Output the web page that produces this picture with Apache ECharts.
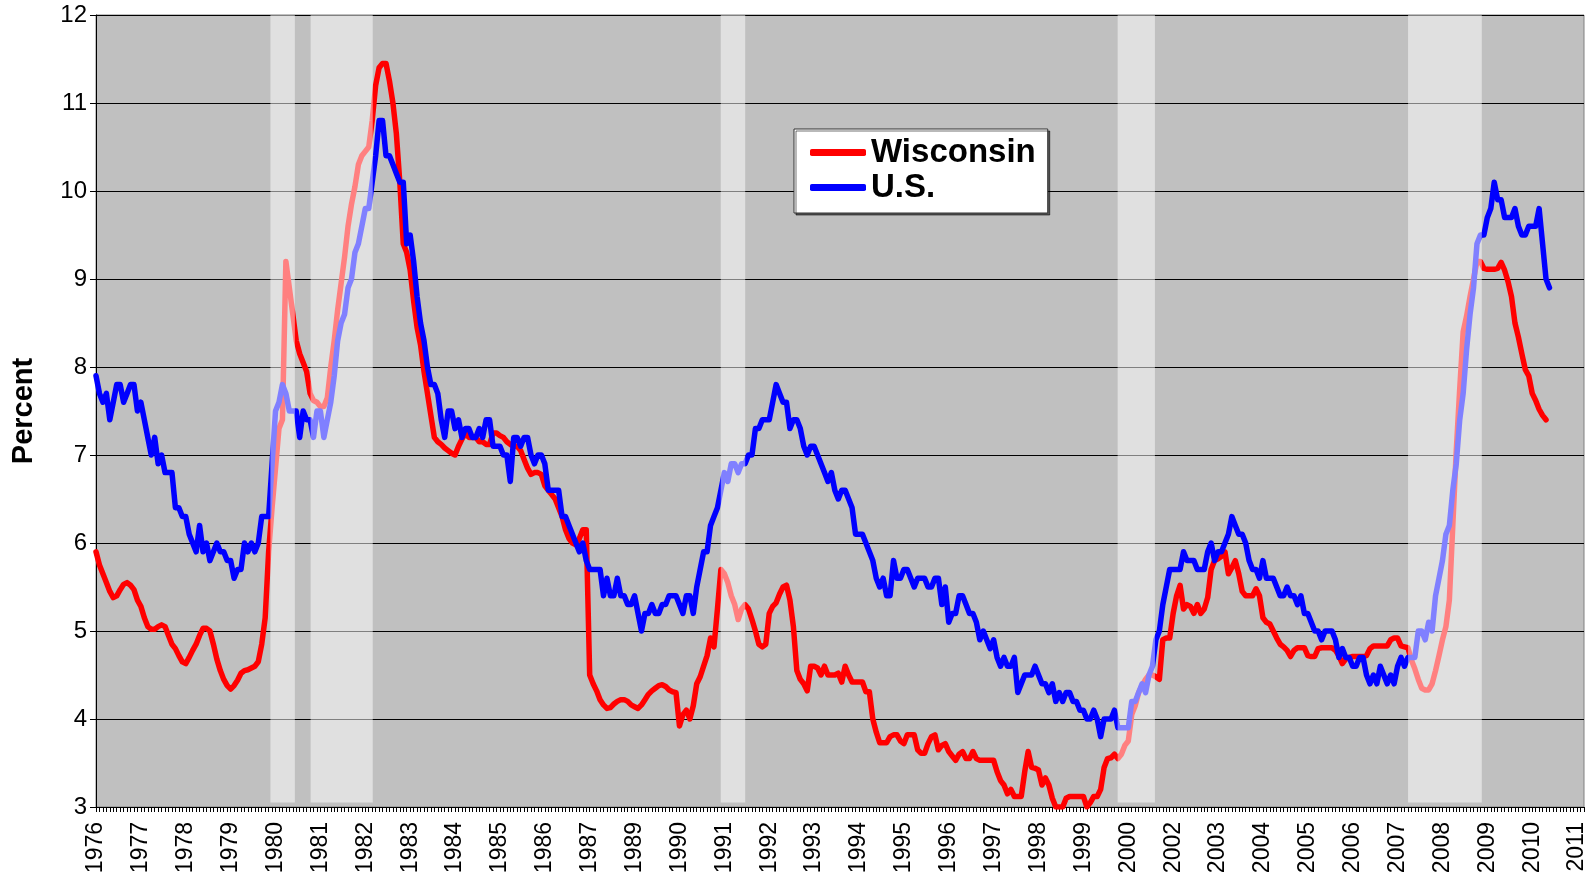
<!DOCTYPE html>
<html lang="en">
<head>
  <meta charset="UTF-8">
  <title>Wisconsin vs U.S. unemployment rate</title>
  <script src="https://cdn.jsdelivr.net/npm/echarts@6/dist/echarts.min.js"></script>
  <style>
    html, body { margin: 0; padding: 0; background: #fff; }
    #main { width: 1594px; height: 879px; }
  </style>
</head>
<body>
<div id="main"></div>
<script>
  // monthly rates, one row per year, starting Jan 1976
  var startYear = 1976;
  var endYear = 2011;

  var wisconsin = [
    5.9, 5.75, 5.65, 5.55, 5.45, 5.38, 5.4, 5.47, 5.53, 5.55, 5.52, 5.47,
    5.35, 5.28, 5.15, 5.05, 5.02, 5.02, 5.05, 5.07, 5.05, 4.95, 4.85, 4.8,
    4.72, 4.65, 4.63, 4.7, 4.78, 4.85, 4.95, 5.03, 5.03, 5.0, 4.85, 4.68,
    4.55, 4.45, 4.38, 4.34, 4.38, 4.44, 4.52, 4.55, 4.56, 4.58, 4.6, 4.65,
    4.85, 5.15, 5.9, 6.4, 6.85, 7.3, 7.4, 9.2, 8.9, 8.6, 8.3, 8.15,
    8.05, 7.95, 7.7, 7.62, 7.6, 7.55, 7.55, 7.65, 8.0, 8.3, 8.65, 8.95,
    9.25, 9.6, 9.85, 10.05, 10.3, 10.4, 10.45, 10.5, 10.8, 11.2, 11.4, 11.45,
    11.45, 11.25, 11.0, 10.65, 10.1, 9.4, 9.3, 9.1, 8.75, 8.45, 8.25, 7.95,
    7.7, 7.45, 7.2, 7.15, 7.12, 7.08, 7.05, 7.02, 7.0, 7.1, 7.18, 7.25,
    7.2, 7.2, 7.2, 7.15, 7.15, 7.12, 7.12, 7.25, 7.25, 7.22, 7.2, 7.15,
    7.12, 7.1, 7.1, 7.05, 6.95, 6.85, 6.78, 6.8, 6.8, 6.78, 6.65, 6.6,
    6.55, 6.5, 6.4, 6.3, 6.15, 6.05, 6.0, 5.98, 6.05, 6.15, 6.15, 4.5,
    4.4, 4.32, 4.22, 4.16, 4.12, 4.13, 4.17, 4.2, 4.22, 4.22, 4.2, 4.16,
    4.14, 4.12, 4.16, 4.22, 4.28, 4.32, 4.35, 4.38, 4.39, 4.37, 4.33, 4.31,
    4.3, 3.92, 4.05, 4.1, 4.0, 4.15, 4.4, 4.48, 4.6, 4.72, 4.92, 4.82,
    5.25, 5.7, 5.65, 5.55, 5.4, 5.3, 5.13, 5.25, 5.3, 5.25, 5.13, 5.0,
    4.85, 4.82, 4.85, 5.2, 5.28, 5.32, 5.42, 5.5, 5.52, 5.35, 5.05, 4.55,
    4.45, 4.4, 4.32, 4.6, 4.6, 4.58, 4.5, 4.6, 4.5, 4.5, 4.5, 4.52,
    4.42, 4.6, 4.5, 4.42, 4.42, 4.42, 4.42, 4.31, 4.31, 4.0, 3.85, 3.73,
    3.73, 3.73, 3.8, 3.82, 3.82, 3.75, 3.72, 3.82, 3.82, 3.82, 3.65, 3.61,
    3.61, 3.72, 3.8, 3.82, 3.65, 3.7, 3.72, 3.63, 3.58, 3.53, 3.6, 3.63,
    3.55, 3.55, 3.63, 3.55, 3.53, 3.53, 3.53, 3.53, 3.53, 3.4, 3.3, 3.25,
    3.15, 3.2, 3.12, 3.12, 3.12, 3.4, 3.63, 3.45, 3.44, 3.42, 3.25, 3.33,
    3.25, 3.1, 3.0, 3.0, 3.0, 3.1, 3.12, 3.12, 3.12, 3.12, 3.12, 3.0,
    3.05, 3.12, 3.12, 3.2, 3.45, 3.55, 3.56, 3.6, 3.55, 3.6, 3.7, 3.75,
    4.05, 4.15, 4.3, 4.38, 4.45, 4.5, 4.5, 4.48, 4.45, 4.9, 4.92, 4.92,
    5.2, 5.4, 5.52, 5.25, 5.3, 5.28, 5.2, 5.3, 5.2, 5.25, 5.38, 5.7,
    5.8, 5.82, 5.85, 5.9, 5.65, 5.72, 5.8, 5.65, 5.45, 5.4, 5.4, 5.4,
    5.48, 5.4, 5.15, 5.1, 5.08, 5.0, 4.92, 4.85, 4.82, 4.78, 4.71, 4.78,
    4.81, 4.81, 4.81, 4.72, 4.71, 4.71, 4.8, 4.81, 4.81, 4.81, 4.81, 4.78,
    4.72, 4.63, 4.68, 4.7, 4.71, 4.71, 4.71, 4.71, 4.72, 4.8, 4.83, 4.83,
    4.83, 4.83, 4.83, 4.9, 4.92, 4.92, 4.83, 4.82, 4.81, 4.67, 4.57, 4.45,
    4.35, 4.33, 4.33, 4.4, 4.55, 4.72, 4.9, 5.05, 5.35, 6.2, 7.05, 7.75,
    8.4, 8.58, 8.8, 9.0, 9.2, 9.2, 9.12, 9.11, 9.11, 9.11, 9.12, 9.19,
    9.1, 8.97, 8.8, 8.5, 8.34, 8.15, 7.97, 7.9, 7.7, 7.62, 7.52, 7.45,
    7.4
  ];

  var us = [
    7.9, 7.7, 7.6, 7.7, 7.4, 7.6, 7.8, 7.8, 7.6, 7.7, 7.8, 7.8,
    7.5, 7.6, 7.4, 7.2, 7.0, 7.2, 6.9, 7.0, 6.8, 6.8, 6.8, 6.4,
    6.4, 6.3, 6.3, 6.1, 6.0, 5.9, 6.2, 5.9, 6.0, 5.8, 5.9, 6.0,
    5.9, 5.9, 5.8, 5.8, 5.6, 5.7, 5.7, 6.0, 5.9, 6.0, 5.9, 6.0,
    6.3, 6.3, 6.3, 6.9, 7.5, 7.6, 7.8, 7.7, 7.5, 7.5, 7.5, 7.2,
    7.5, 7.4, 7.4, 7.2, 7.5, 7.5, 7.2, 7.4, 7.6, 7.9, 8.3, 8.5,
    8.6, 8.9, 9.0, 9.3, 9.4, 9.6, 9.8, 9.8, 10.1, 10.4, 10.8, 10.8,
    10.4, 10.4, 10.3, 10.2, 10.1, 10.1, 9.4, 9.5, 9.2, 8.8, 8.5, 8.3,
    8.0, 7.8, 7.8, 7.7, 7.4, 7.2, 7.5, 7.5, 7.3, 7.4, 7.2, 7.3,
    7.3, 7.2, 7.2, 7.3, 7.2, 7.4, 7.4, 7.1, 7.1, 7.1, 7.0, 7.0,
    6.7, 7.2, 7.2, 7.1, 7.2, 7.2, 7.0, 6.9, 7.0, 7.0, 6.9, 6.6,
    6.6, 6.6, 6.6, 6.3, 6.3, 6.2, 6.1, 6.0, 5.9, 6.0, 5.8, 5.7,
    5.7, 5.7, 5.7, 5.4, 5.6, 5.4, 5.4, 5.6, 5.4, 5.4, 5.3, 5.3,
    5.4, 5.2, 5.0, 5.2, 5.2, 5.3, 5.2, 5.2, 5.3, 5.3, 5.4, 5.4,
    5.4, 5.3, 5.2, 5.4, 5.4, 5.2, 5.5, 5.7, 5.9, 5.9, 6.2, 6.3,
    6.4, 6.6, 6.8, 6.7, 6.9, 6.9, 6.8, 6.9, 6.9, 7.0, 7.0, 7.3,
    7.3, 7.4, 7.4, 7.4, 7.6, 7.8, 7.7, 7.6, 7.6, 7.3, 7.4, 7.4,
    7.3, 7.1, 7.0, 7.1, 7.1, 7.0, 6.9, 6.8, 6.7, 6.8, 6.6, 6.5,
    6.6, 6.6, 6.5, 6.4, 6.1, 6.1, 6.1, 6.0, 5.9, 5.8, 5.6, 5.5,
    5.6, 5.4, 5.4, 5.8, 5.6, 5.6, 5.7, 5.7, 5.6, 5.5, 5.6, 5.6,
    5.6, 5.5, 5.5, 5.6, 5.6, 5.3, 5.5, 5.1, 5.2, 5.2, 5.4, 5.4,
    5.3, 5.2, 5.2, 5.1, 4.9, 5.0, 4.9, 4.8, 4.9, 4.7, 4.6, 4.7,
    4.6, 4.6, 4.7, 4.3, 4.4, 4.5, 4.5, 4.5, 4.6, 4.5, 4.4, 4.4,
    4.3, 4.4, 4.2, 4.3, 4.2, 4.3, 4.3, 4.2, 4.2, 4.1, 4.1, 4.0,
    4.0, 4.1, 4.0, 3.8, 4.0, 4.0, 4.0, 4.1, 3.9, 3.9, 3.9, 3.9,
    4.2, 4.2, 4.3, 4.4, 4.3, 4.5, 4.6, 4.9, 5.0, 5.3, 5.5, 5.7,
    5.7, 5.7, 5.7, 5.9, 5.8, 5.8, 5.8, 5.7, 5.7, 5.7, 5.9, 6.0,
    5.8, 5.9, 5.9, 6.0, 6.1, 6.3, 6.2, 6.1, 6.1, 6.0, 5.8, 5.7,
    5.7, 5.6, 5.8, 5.6, 5.6, 5.6, 5.5, 5.4, 5.4, 5.5, 5.4, 5.4,
    5.3, 5.4, 5.2, 5.2, 5.1, 5.0, 5.0, 4.9, 5.0, 5.0, 5.0, 4.9,
    4.7, 4.8, 4.7, 4.7, 4.6, 4.6, 4.7, 4.7, 4.5, 4.4, 4.5, 4.4,
    4.6, 4.5, 4.4, 4.5, 4.4, 4.6, 4.7, 4.6, 4.7, 4.7, 4.7, 5.0,
    5.0, 4.9, 5.1, 5.0, 5.4, 5.6, 5.8, 6.1, 6.2, 6.6, 6.9, 7.4,
    7.7, 8.2, 8.6, 8.9, 9.4, 9.5, 9.5, 9.7, 9.8, 10.1, 9.9, 9.9,
    9.7, 9.7, 9.7, 9.8, 9.6, 9.5, 9.5, 9.6, 9.6, 9.6, 9.8, 9.4,
    9.0, 8.9
  ];

  // shaded periods as drawn, in decimal years
  var recessions = [
    [1980.21, 1980.80],
    [1981.18, 1982.68],
    [1991.08, 1991.67],
    [2000.66, 2001.56],
    [2007.67, 2009.45]
  ];

  var yMin = 3, yMax = 12, yStep = 1;

  // one category per month, Jan 1976 .. Dec 2011
  var months = [];
  for (var y = startYear; y <= endYear; y++) {
    for (var m = 1; m <= 12; m++) {
      months.push(y + '-' + (m < 10 ? '0' : '') + m);
    }
  }

  var chart = echarts.init(document.getElementById('main'));
  var font = 'Liberation Sans, Arial, sans-serif';

  var option = {
    animation: false,
    grid: {
      left: 96, right: 10, top: 15, bottom: 72,
      show: true,
      backgroundColor: '#c0c0c0',
      borderColor: '#808080',
      borderWidth: 1
    },
    legend: {
      data: ['Wisconsin', 'U.S.'],
      orient: 'vertical',
      left: 794,
      top: 129,
      padding: [7, 12, 9, 16],
      itemGap: 2,
      itemWidth: 56,
      itemHeight: 7,
      icon: 'roundRect',
      backgroundColor: '#fff',
      borderColor: '#333',
      borderWidth: 1,
      shadowColor: 'rgba(0,0,0,0.55)',
      shadowOffsetX: 2,
      shadowOffsetY: 2,
      textStyle: {
        fontFamily: font,
        fontWeight: 'bold',
        fontSize: 33,
        lineHeight: 33,
        color: '#000'
      }
    },
    xAxis: {
      type: 'category',
      data: months,
      boundaryGap: false,
      axisLine: { lineStyle: { color: '#000', width: 1 } },
      axisTick: { interval: 0, length: 5, lineStyle: { color: '#000' } },
      axisLabel: {
        interval: 12,
        rotate: 90,
        margin: 15,
        fontFamily: font,
        fontSize: 23,
        color: '#000',
        formatter: function (v) { return v.substring(0, 4); }
      },
      splitLine: { show: false }
    },
    yAxis: {
      type: 'value',
      min: yMin,
      max: yMax,
      interval: yStep,
      name: 'Percent',
      nameLocation: 'middle',
      nameGap: 58,
      nameRotate: 90,
      nameTextStyle: { fontFamily: font, fontSize: 29, fontWeight: 'bold', color: '#000' },
      axisLine: { show: true, lineStyle: { color: '#000', width: 1 } },
      axisTick: { show: true, length: 6, lineStyle: { color: '#000' } },
      axisLabel: { fontFamily: font, fontSize: 24, color: '#000', margin: 9 },
      splitLine: { lineStyle: { color: '#000', width: 1 } }
    },
    series: [
      {
        name: 'Wisconsin',
        type: 'line',
        data: wisconsin,
        symbol: 'none',
        color: '#ff0000',
        lineStyle: { width: 5.5, color: '#ff0000', cap: 'round', join: 'round' },
        z: 2
      },
      {
        name: 'U.S.',
        type: 'line',
        data: us,
        symbol: 'none',
        color: '#0000ff',
        lineStyle: { width: 5.5, color: '#0000ff', cap: 'round', join: 'round' },
        z: 3
      },
      {
        // pale bands laid over the lines
        type: 'custom',
        silent: true,
        z: 10,
        data: recessions.map(function (b, i) { return [i, yMin]; }),
        renderItem: function (params, api) {
          var band = recessions[params.dataIndex];
          var p0 = api.coord([0, yMax]);
          var p1 = api.coord([1, yMin + 0.05]);
          var step = p1[0] - p0[0];
          var x0 = p0[0] + (band[0] - startYear) * 12 * step;
          var x1 = p0[0] + (band[1] - startYear) * 12 * step;
          return {
            type: 'rect',
            shape: { x: x0, y: p0[1], width: x1 - x0, height: p1[1] - p0[1] },
            style: { fill: 'rgba(255,255,255,0.5)' }
          };
        }
      }
    ]
  };

  chart.setOption(option);
</script>
</body>
</html>
